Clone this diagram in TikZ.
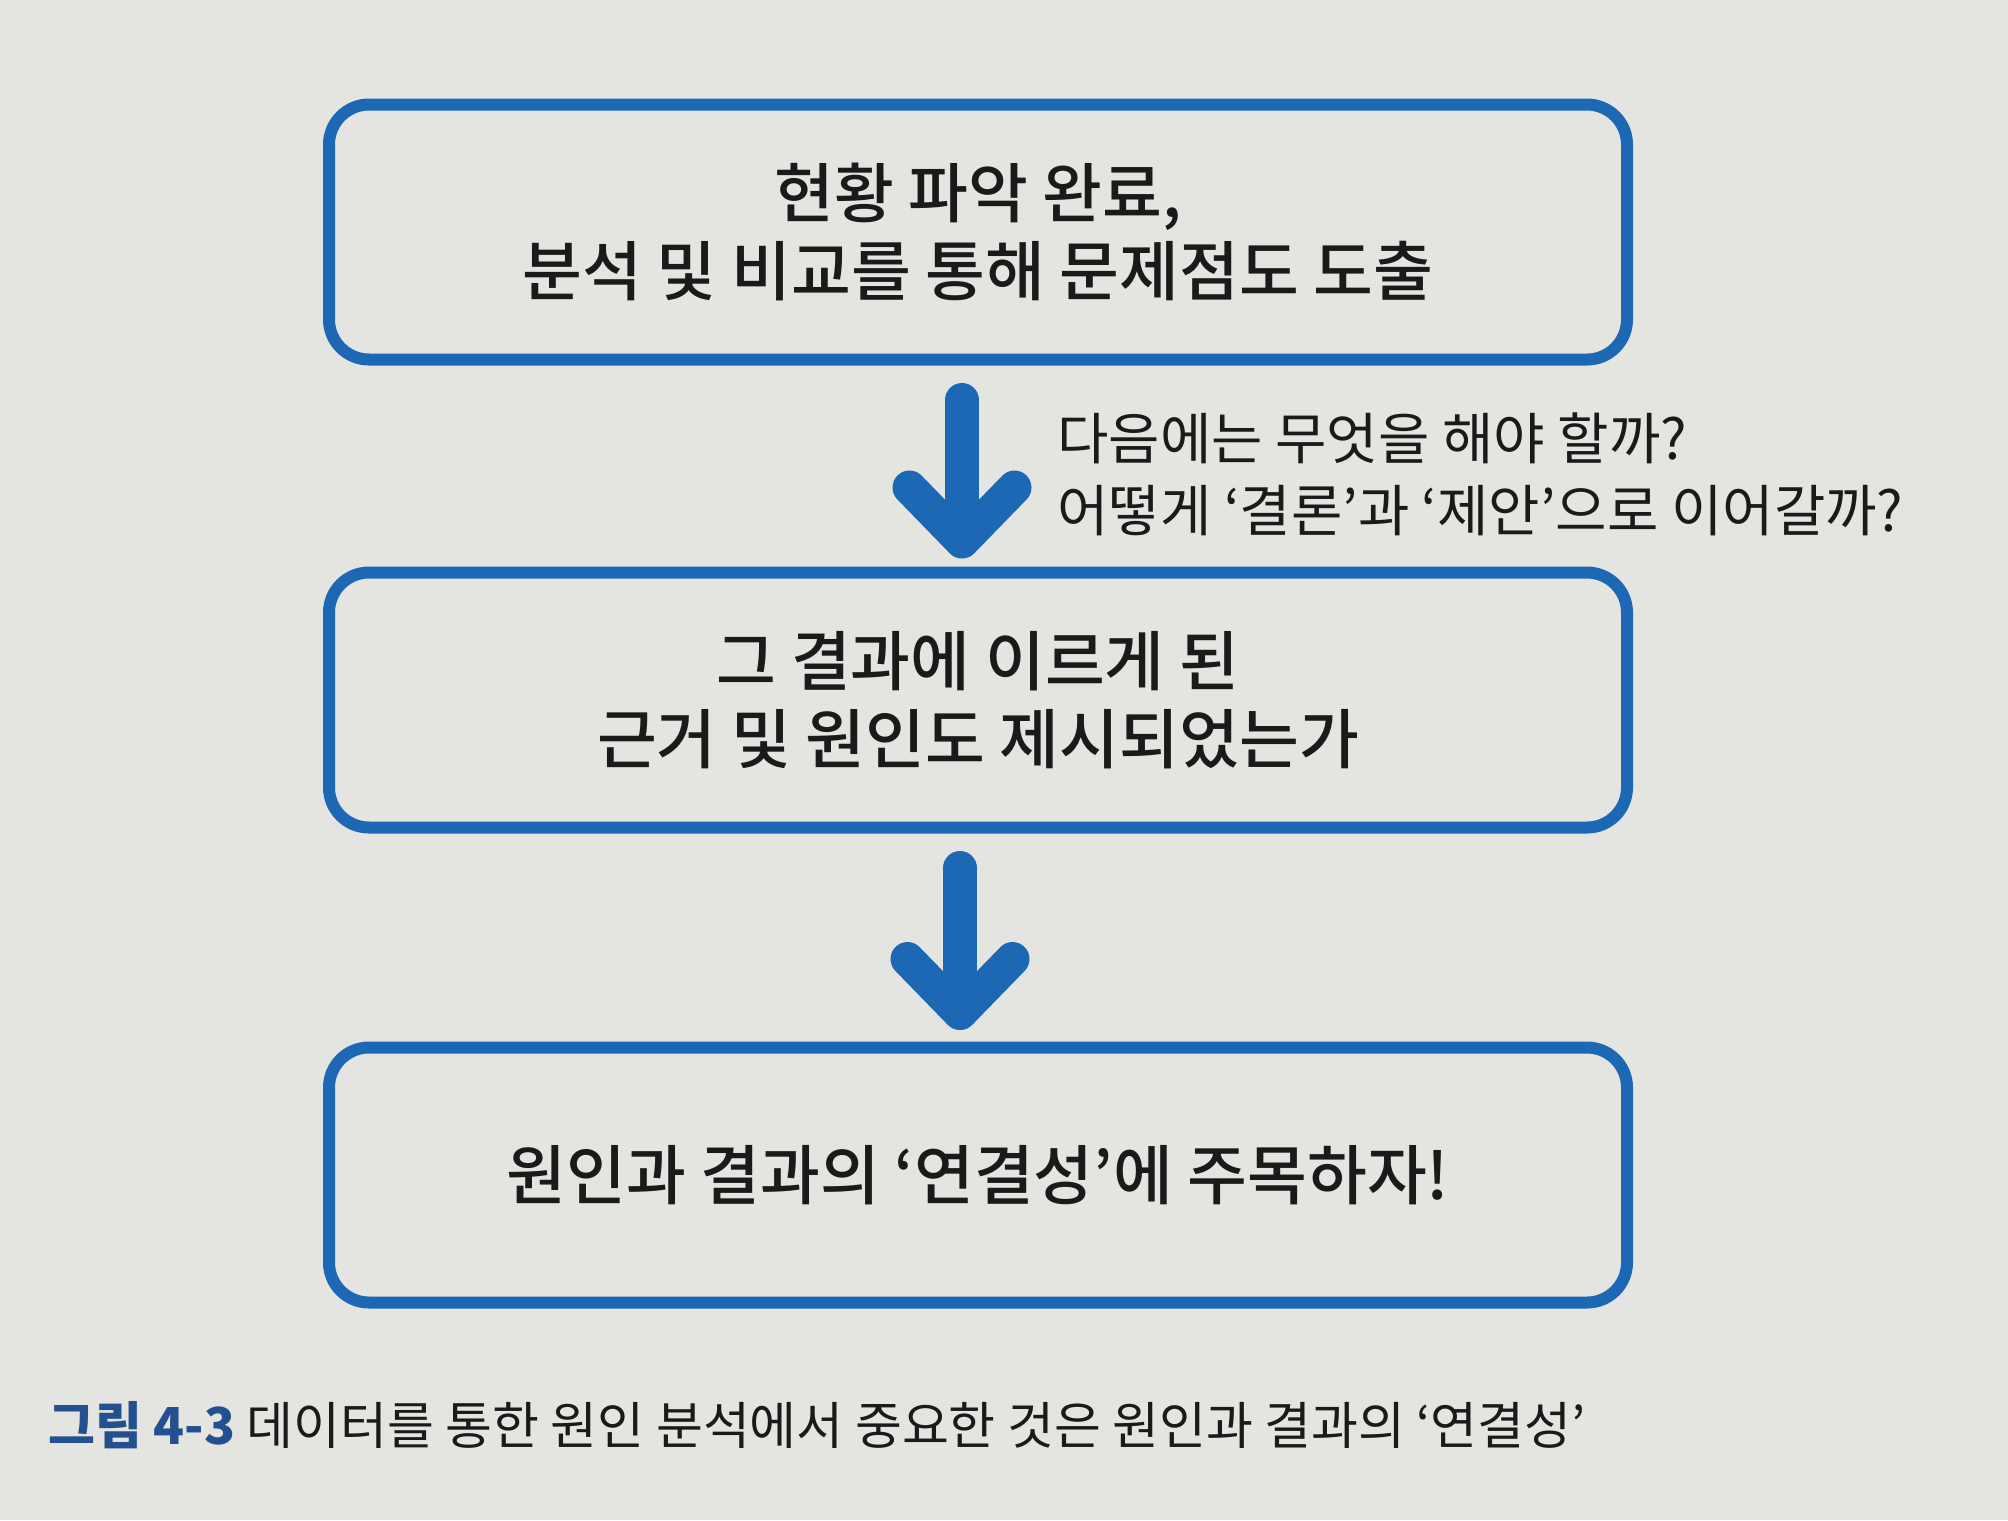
\documentclass[tikz,border=0pt]{standalone}
\usepackage{fontspec}
\setmainfont{Noto Sans CJK KR}[BoldFont={Noto Sans CJK KR Medium}]
\newfontfamily\krheavy{Noto Sans CJK KR}
\usepackage{xcolor}
\usetikzlibrary{arrows.meta,positioning}
\definecolor{boxblue}{HTML}{1D68B5}
\definecolor{capblue}{HTML}{23508F}
\definecolor{paper}{HTML}{E4E5E1}
\definecolor{ink}{HTML}{1A1A1A}

\begin{document}
\begin{tikzpicture}[
  stepbox/.style={rounded corners=4mm,draw=boxblue,line width=1.2mm,fill=paper,
                  minimum width=12.98cm,minimum height=2.55cm,align=center,
                  text=ink,font=\fontsize{18.5}{22.2}\selectfont\bfseries},
  arr/.style={line width=3.4mm,draw=boxblue,line cap=round,
              -{Straight Barb[round,length=5.4mm,width=10.5mm]}},
  note/.style={align=left,anchor=west,text=ink,font=\fontsize{15.9}{20.5}\selectfont}
]
\fill[paper] (0,0) rectangle (20.08,-15.20);
\useasboundingbox (0,0) rectangle (20.08,-15.20);
% the three steps, top to bottom
\node[stepbox] (s1) at (9.78,-2.32)  {현황 파악 완료,\\분석 및 비교를 통해 문제점도 도출};
\node[stepbox] (s2) at (9.78,-7.00)  {그 결과에 이르게 된\\근거 및 원인도 제시되었는가};
\node[stepbox] (s3) at (9.78,-11.75) {원인과 결과의 ‘연결성’에 주목하자!};
\draw[arr] ([xshift=-1.6mm,yshift=-3.45mm]s1.south) -- ([xshift=-1.6mm,yshift=0.8mm]s2.north);
\draw[arr] ([xshift=-1.8mm,yshift=-3.45mm]s2.south) -- ([xshift=-1.8mm,yshift=1.15mm]s3.north);
\node[note] (q) at (10.45,-4.74) {다음에는 무엇을 해야 할까?\\어떻게 ‘결론’과 ‘제안’으로 이어갈까?};
% caption
\node[anchor=west,text=ink,font=\fontsize{14.5}{16}\selectfont] (cap) at (0.36,-14.25)
  {\textcolor{capblue}{\krheavy\bfseries 그림 4-3} 데이터를 통한 원인 분석에서 중요한 것은 원인과 결과의 ‘연결성’};
\end{tikzpicture}
\end{document}
